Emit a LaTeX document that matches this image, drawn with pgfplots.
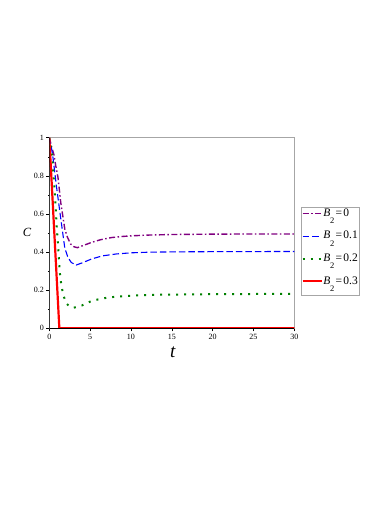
\documentclass[border=0pt]{standalone}
\usepackage{fontspec}
\setmainfont{Liberation Serif}
\usepackage{pgfplots}
\pgfplotsset{compat=1.18}
\definecolor{mpurple}{RGB}{128,0,128}
\definecolor{mgreen}{RGB}{0,128,0}
\newcommand{\Bsub}[1]{\textit{B}\kern-0.5pt\raisebox{-7.5pt}{\fontsize{8.5}{8.5}\selectfont 2}\kern1.5pt=\kern1.2pt#1}
\begin{document}
\begin{tikzpicture}
\useasboundingbox (-49.3pt,-176.7pt) rectangle (340.7pt,328.3pt);
\begin{axis}[
  scale only axis,
  width=245pt, height=190.6pt,
  xmin=0, xmax=30, ymin=0, ymax=1,
  xtick={0,5,10,15,20,25,30},
  ytick={0,0.2,0.4,0.6,0.8,1},
  minor y tick num=1,
  tick align=outside,
  xtick pos=bottom, ytick pos=left,
  major tick length=3pt, minor tick length=1.5pt,
  tick style={black, line width=0.5pt},
  axis line style={gray!70, line width=0.6pt},
  /pgf/number format/assume math mode=true,
  tick label style={font=\fontsize{8}{8}\selectfont},
  xticklabel style={yshift=0.5pt},
  yticklabel style={xshift=1pt},
  xlabel={\textit{t}},
  xlabel style={font=\fontsize{19}{19}\selectfont, inner sep=0pt, at={(axis description cs:0.505,-0.126)}, anchor=center},
  ylabel={\textit{C}},
  ylabel style={font=\fontsize{12.5}{12.5}\selectfont, rotate=-90, at={(axis description cs:-0.091,0.505)}, anchor=center},
  legend style={at={(axis description cs:1.026,0.638)}, anchor=north west,
    draw=gray!70, line width=0.6pt, font=\fontsize{11.5}{11.5}\selectfont,
    inner sep=0.5pt, row sep=3.5pt, column sep=0pt,
    nodes={inner sep=0.8pt, text height=8pt, text depth=9.5pt}},
  legend cell align=left,
  legend image code/.code={\draw[#1] (0pt,3.5pt) -- (19pt,3.5pt);},
]
\addplot[mpurple, line width=1.4pt, dash pattern=on 6pt off 2.5pt on 1.5pt off 2.5pt] coordinates {
(0,1.0) (0.3,0.95) (0.57,0.91) (0.8,0.85) (1.07,0.79) (1.4,0.66) (1.65,0.59) (1.9,0.52) (2.2,0.48) (2.6,0.443) (3.0,0.428) (3.44,0.423) (4.0,0.432) (5.2,0.451) (6.3,0.465) (7.6,0.476) (9,0.482) (10,0.485) (12,0.489) (15,0.492) (20,0.494) (25,0.495) (30,0.495)};
\addlegendentry{\Bsub{0}}
\addplot[blue, line width=1.1pt, dash pattern=on 6.5pt off 3pt] coordinates {
(0,1.0) (0.2,0.96) (0.41,0.91) (0.86,0.75) (1.4,0.577) (1.9,0.42) (2.3,0.37) (2.7,0.345) (3.3,0.332) (4.0,0.343) (5.2,0.364) (6.5,0.38) (8.2,0.39) (10,0.396) (12,0.399) (15,0.401) (20,0.402) (30,0.403)};
\addlegendentry{\Bsub{0.1}}
\addplot[mgreen, line width=2pt, dash pattern=on 2pt off 6pt] coordinates {
(0,1.0) (0.33,0.91) (0.66,0.72) (0.9,0.54) (1.2,0.35) (1.35,0.26) (1.7,0.175) (2.1,0.13) (2.5,0.113) (3.0,0.108) (4.0,0.12) (5,0.14) (6,0.152) (7,0.16) (8.2,0.166) (10,0.171) (12,0.175) (15,0.177) (20,0.179) (25,0.18) (30,0.18)};
\addlegendentry{\Bsub{0.2}}
\addplot[red, line width=2.2pt] coordinates {
(0,1.0) (1.23,0) (30,0)};
\addlegendentry{\Bsub{0.3}}
\draw[black, line width=0.6pt] (rel axis cs:0,1) -- (rel axis cs:0,0) -- (rel axis cs:1,0);
\end{axis}
\end{tikzpicture}
\end{document}
